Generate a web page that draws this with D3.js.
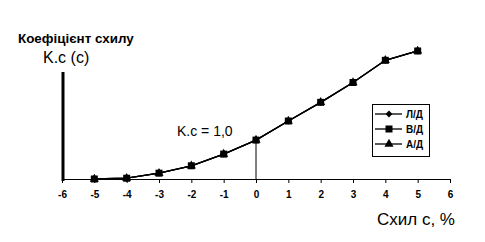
<!DOCTYPE html>
<html>
<head>
<meta charset="utf-8">
<script src="https://cdn.jsdelivr.net/npm/d3@7"></script>
<style>
  body { margin: 0; background: #fff; }
  svg { display: block; font-family: Arial, "Liberation Sans", sans-serif; }
</style>
</head>
<body>
<div id="chart"></div>
<script>
// Slope values (%)
const slopes = [-5, -4, -3, -2, -1, 0, 1, 2, 3, 4, 5];
// Slope coefficient per series (the three series coincide)
const seriesLD = [0.00, 0.02, 0.15, 0.34, 0.64, 1.00, 1.49, 1.97, 2.48, 3.05, 3.29];
const seriesVD = [0.00, 0.02, 0.15, 0.34, 0.64, 1.00, 1.49, 1.97, 2.48, 3.05, 3.29];
const seriesAD = [0.00, 0.02, 0.15, 0.34, 0.64, 1.00, 1.49, 1.97, 2.48, 3.05, 3.29];
const seriesNames = ['Л/Д', 'В/Д', 'А/Д'];
const xTicks = [-6, -5, -4, -3, -2, -1, 0, 1, 2, 3, 4, 5, 6];

const width = 485, height = 242;

const svg = d3.select('#chart')
    .append('svg')
    .attr('width', width)
    .attr('height', height);

// Scales
const xScale = d3.scaleLinear().domain([-6, 6]).range([62, 450]);
const yScale = d3.scaleLinear().domain([0, 2.75]).range([179, 72]);

// X axis
const xAxis = svg.append('g')
    .attr('transform', `translate(0,${yScale(0)})`)
    .call(d3.axisBottom(xScale)
        .tickValues(xTicks)
        .tickSizeInner(4)
        .tickSizeOuter(4)
        .tickPadding(8)
        .tickFormat(d3.format('d')));
xAxis.select('.domain').attr('stroke', '#000').attr('stroke-width', 1);
xAxis.selectAll('.tick line').attr('stroke', '#000');
xAxis.selectAll('.tick text')
    .attr('fill', '#000')
    .style('font-size', '10px')
    .style('font-weight', 'bold')
    .text(d => d < 0 ? '-' + Math.abs(d) : d);

// Y axis (thick line, no labels)
svg.append('line')
    .attr('x1', xScale(-6) + 1).attr('x2', xScale(-6) + 1)
    .attr('y1', yScale(2.75)).attr('y2', yScale(0) + 2)
    .attr('stroke', '#000')
    .attr('stroke-width', 3);

// Reference line at zero slope
svg.append('line')
    .attr('x1', xScale(0)).attr('x2', xScale(0))
    .attr('y1', yScale(seriesVD[slopes.indexOf(0)]))
    .attr('y2', yScale(0))
    .attr('stroke', '#000')
    .attr('stroke-width', 1);

const line = d3.line()
    .x((d, i) => xScale(slopes[i]))
    .y(d => yScale(d));

const symbols = [d3.symbolDiamond2, d3.symbolSquare, d3.symbolTriangle];
const symbolSizes = [30, 49, 36];
const allSeries = [seriesLD, seriesVD, seriesAD];

allSeries.forEach(values => {
    svg.append('path')
        .datum(values)
        .attr('d', line)
        .attr('fill', 'none')
        .attr('stroke', '#000')
        .attr('stroke-width', 1.3);
});

// Markers: draw triangle & diamond first, square on top
[2, 0, 1].forEach(k => {
    svg.append('g').selectAll('path')
        .data(allSeries[k])
        .enter().append('path')
        .attr('transform', (d, i) => `translate(${xScale(slopes[i])},${yScale(d)})`)
        .attr('d', d3.symbol().type(symbols[k]).size(symbolSizes[k]))
        .attr('fill', '#000');
});

// Titles
svg.append('text')
    .attr('x', 18).attr('y', 43)
    .style('font-size', '13.4px')
    .style('font-weight', 'bold')
    .text('Коефіцієнт схилу');

svg.append('text')
    .attr('x', 43).attr('y', 63)
    .style('font-size', '16px')
    .text('K.c (c)');

svg.append('text')
    .attr('x', 377).attr('y', 225)
    .style('font-size', '17px')
    .text('Схил с, %');

svg.append('text')
    .attr('x', 177).attr('y', 136)
    .style('font-size', '14px')
    .text('K.c = 1,0');

// Legend
const legend = svg.append('g').attr('transform', 'translate(372,104)');
legend.append('rect')
    .attr('x', 0.5).attr('y', 0.5)
    .attr('width', 57).attr('height', 52)
    .attr('fill', '#fff')
    .attr('stroke', '#000');

seriesNames.forEach((name, k) => {
    const y = 10 + k * 15;
    legend.append('line')
        .attr('x1', 3).attr('x2', 30)
        .attr('y1', y).attr('y2', y)
        .attr('stroke', '#000')
        .attr('stroke-width', 1.3);
    legend.append('path')
        .attr('transform', `translate(17,${y})`)
        .attr('d', d3.symbol().type(symbols[k]).size(symbolSizes[k]))
        .attr('fill', '#000');
    legend.append('text')
        .attr('x', 34).attr('y', y)
        .attr('dy', '0.35em')
        .style('font-size', '10px')
        .style('font-weight', 'bold')
        .text(name);
});
</script>
</body>
</html>
